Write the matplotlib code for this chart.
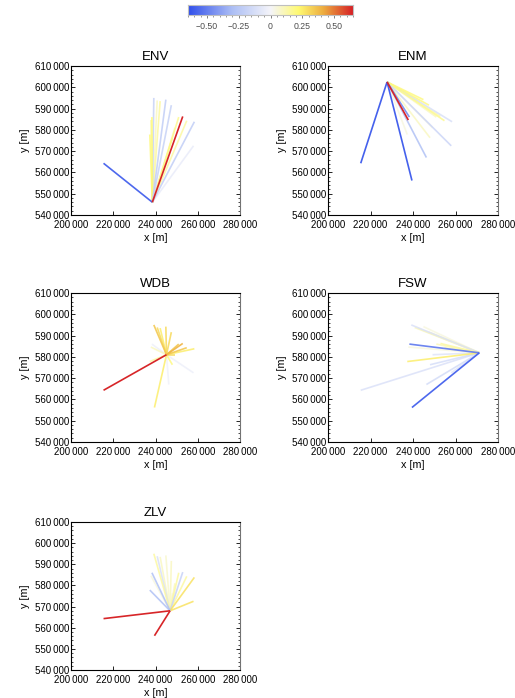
import numpy as np
import matplotlib
matplotlib.use("Agg")
import matplotlib.pyplot as plt
from matplotlib.colors import LinearSegmentedColormap, Normalize
from matplotlib.ticker import MultipleLocator, FuncFormatter

plt.rcParams['font.family'] = ['Liberation Sans', 'DejaVu Sans']

# station coordinates [m]
st_x = [215400, 239500, 239200, 240800, 242200, 244900, 247500, 238300, 237300,
        248000, 251000, 252900, 254800, 258400, 258000, 246300, 249200, 237800]
st_y = [564300, 556200, 595000, 593800, 593500, 594200, 591600, 586000, 577800,
        576300, 586000, 586300, 584300, 583800, 572500, 567000, 581000, 584600]

# reference stations (hubs)
hubs = ['ENV', 'ENM', 'WDB', 'FSW', 'ZLV']
hub_x = [238500, 227800, 245200, 271200, 246900]
hub_y = [546000, 602500, 581000, 581900, 568000]

# correlation value for each station, per hub
vals = {
    'ENV': [-0.58, 0.05, -0.2, 0.1, 0.15, -0.22, -0.2, 0.22, 0.2,
            0.18, 0.18, 0.64, 0.15, -0.22, -0.06, 0.05, 0.1, 0.12],
    'ENM': [-0.6, -0.6, 0.05, 0.05, 0.05, 0.2, 0.2, -0.45, 0.05,
            0.1, 0.1, 0.12, 0.18, -0.13, -0.18, -0.28, 0.05, 0.64],
    'WDB': [0.64, 0.25, 0.35, 0.3, 0.25, 0.3, 0.3, -0.04, 0.15,
            0.2, 0.35, 0.4, 0.35, 0.25, -0.04, -0.03, 0.3, 0.1],
    'FSW': [-0.12, -0.58, -0.12, 0.1, 0.08, 0.05, 0.1, -0.5, 0.25,
            -0.14, 0.12, 0.15, 0.1, -0.05, -0.1, -0.15, -0.1, 0.05],
    'ZLV': [0.64, 0.64, 0.15, -0.13, 0.1, 0.08, 0.1, -0.28, -0.28,
            0.05, 0.15, -0.2, 0.15, 0.28, 0.28, 0.0, 0.1, 0.05],
}

vmin, vmax = -0.65, 0.65
cmap = LinearSegmentedColormap.from_list('bwyr', [
    (0.0, (0.19, 0.31, 0.92)),
    (0.27, (0.68, 0.75, 0.96)),
    (0.5, (0.96, 0.96, 0.98)),
    (0.67, (1.0, 0.98, 0.45)),
    (0.82, (0.93, 0.68, 0.25)),
    (1.0, (0.84, 0.13, 0.15)),
])
norm = Normalize(vmin, vmax)

fig = plt.figure(figsize=(5.15, 6.98), dpi=100)
W, H = 515, 698

def px_axes(l, t, r, b):
    return fig.add_axes([l / W, 1 - b / H, (r - l) / W, (b - t) / H])

pos = [(71, 66, 240, 215), (328, 66, 498, 215),
       (71, 293, 240, 442), (328, 293, 498, 442),
       (71, 522, 240, 670)]

fmt = FuncFormatter(lambda v, p: f"{v:,.0f}".replace(",", "\u2009"))

for i, name in enumerate(hubs):
    ax = px_axes(*pos[i])
    v = np.array(vals[name])
    order = np.argsort(np.abs(v))
    for k in order:
        a = 0.75 + 0.25 * abs(v[k]) / 0.65
        ax.plot([hub_x[i], st_x[k]], [hub_y[i], st_y[k]], color=cmap(norm(v[k])),
                lw=1.2, alpha=a, solid_capstyle='butt')
    ax.set_xlim(200000, 280000)
    ax.set_ylim(540000, 610000)
    ax.xaxis.set_major_locator(MultipleLocator(20000))
    ax.yaxis.set_major_locator(MultipleLocator(10000))
    ax.yaxis.set_minor_locator(MultipleLocator(2000))
    ax.xaxis.set_minor_locator(MultipleLocator(5000))
    ax.xaxis.set_major_formatter(fmt)
    ax.yaxis.set_major_formatter(fmt)
    ax.tick_params(which='both', direction='in', labelsize=7.0,
                   top=False, right=True, labelright=False)
    ax.tick_params(axis='y', pad=1.5)
    ax.tick_params(axis='x', pad=3.5)
    ax.tick_params(which='major', length=3, width=0.6)
    ax.tick_params(which='minor', length=1.5, width=0.5)
    ax.tick_params(axis='x', which='minor', length=0)
    for s in ax.spines.values():
        s.set_linewidth(0.8)
    ax.spines['right'].set_color('0.45')
    ax.set_title(name, fontsize=9.5, pad=4)
    ax.set_xlabel('x [m]', fontsize=7.8, labelpad=2)
    ax.set_ylabel('y [m]', fontsize=7.8, labelpad=3)

# colour bar on top
cax = px_axes(188, 5, 353, 15)
grad = np.linspace(vmin, vmax, 256).reshape(1, -1)
cax.imshow(grad, cmap=cmap, norm=norm, aspect='auto',
           extent=(vmin, vmax, 0, 1))
cax.set_yticks([])
cax.set_xticks([-0.5, -0.25, 0, 0.25, 0.5])
cax.set_xticklabels(['\u22120.50', '\u22120.25', '0', '0.25', '0.50'])
cax.xaxis.set_minor_locator(MultipleLocator(0.05))
cax.tick_params(axis='x', which='both', labelsize=6.3, colors='0.3',
                direction='out', pad=3)
cax.tick_params(axis='x', which='major', length=2, width=0.5)
cax.tick_params(axis='x', which='minor', length=1.2, width=0.4)
for s in cax.spines.values():
    s.set_color('0.75')
    s.set_linewidth(0.8)

fig.savefig('out.png', dpi=100)
